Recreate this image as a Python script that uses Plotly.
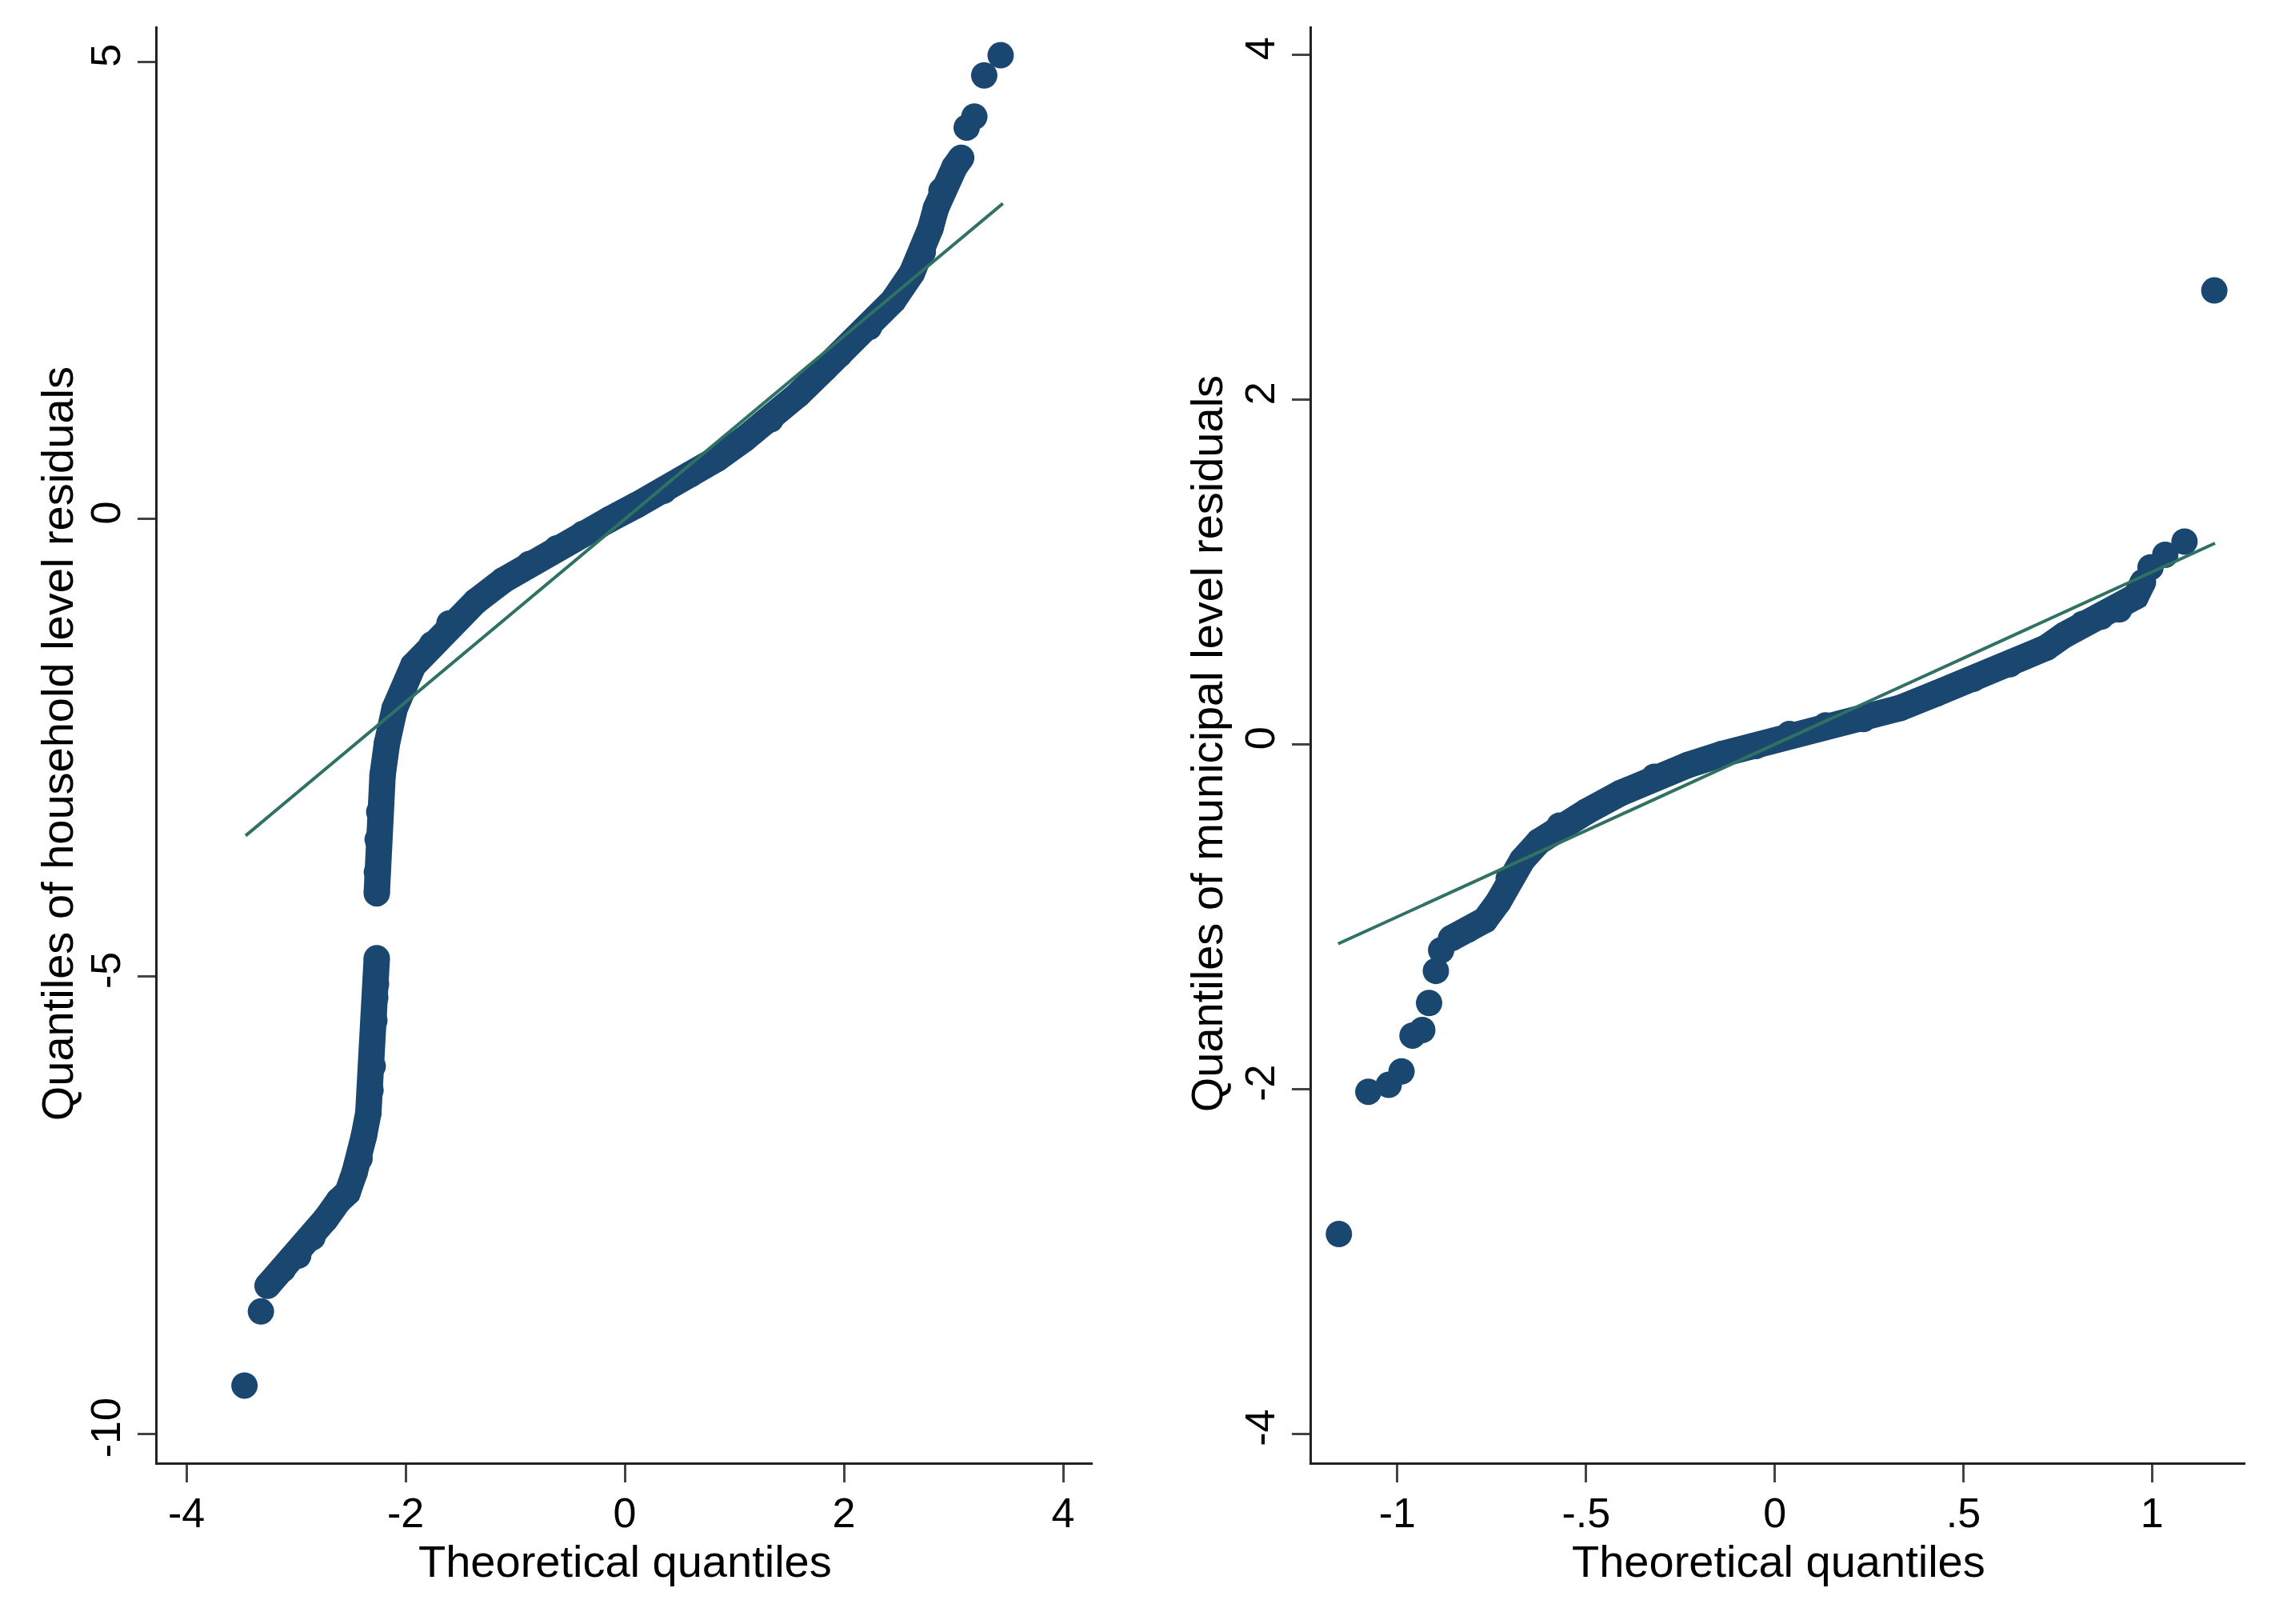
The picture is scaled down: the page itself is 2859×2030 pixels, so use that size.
import plotly.graph_objects as go

# ---------------- Data ----------------
# Left panel: household level residuals (theoretical quantile, residual)
hh_low_x = [-3.47, -3.32]
hh_low_y = [-9.47, -8.66]

hh_band1_x = [-3.26, -3.12, -2.98, -2.85, -2.73, -2.61, -2.53, -2.465, -2.42, -2.38,
              -2.34, -2.32, -2.30, -2.285, -2.277, -2.27, -2.263]
hh_band1_y = [-8.38, -8.20, -8.05, -7.85, -7.65, -7.45, -7.36, -7.14, -6.99, -6.74,
              -6.49, -6.24, -5.98, -5.48, -5.23, -5.08, -4.80]

hh_band2_x = [-2.263, -2.262, -2.255, -2.24, -2.21, -2.17, -2.10, -1.93, -1.76, -1.60,
              -1.36, -1.11, -0.87, -0.62, -0.38, -0.135, 0.11, 0.354, 0.60, 0.842,
              1.09, 1.331, 1.58, 1.82, 1.96, 2.23, 2.45, 2.62, 2.72, 2.79,
              2.84, 2.89, 3.01, 3.07]
hh_band2_y = [-4.09, -3.86, -3.50, -3.20, -2.80, -2.45, -2.07, -1.60, -1.37, -1.14,
              -0.90, -0.67, -0.49, -0.32, -0.16, 0.0, 0.155, 0.31, 0.49, 0.66,
              0.875, 1.09, 1.36, 1.64, 1.80, 2.10, 2.39, 2.69, 2.92, 3.18,
              3.40, 3.59, 3.85, 3.95]

hh_high_x = [3.12, 3.19, 3.28, 3.43]
hh_high_y = [4.28, 4.40, 4.85, 5.07]

hh_line = [-3.46, 3.45]

# Right panel: municipal level residuals
mu_low_x = [-1.155]
mu_low_y = [-2.84]

mu_dots_x = [-1.077, -1.023, -0.989, -0.960, -0.934, -0.916, -0.898, -0.884]
mu_dots_y = [-2.015, -1.975, -1.897, -1.689, -1.657, -1.50, -1.314, -1.194]

mu_band_x = [-0.858, -0.812, -0.768, -0.732, -0.705, -0.669, -0.625, -0.570, -0.499, -0.409,
             -0.319, -0.230, -0.140, -0.050, 0.039, 0.135, 0.235, 0.332, 0.429, 0.526,
             0.623, 0.720, 0.768, 0.816, 0.865, 0.913, 0.957, 0.976]
mu_band_y = [-1.126, -1.073, -1.019, -0.912, -0.778, -0.671, -0.564, -0.471, -0.390, -0.283,
             -0.188, -0.12, -0.056, -0.01, 0.06, 0.11, 0.147, 0.211, 0.296, 0.380,
             0.465, 0.561, 0.635, 0.698, 0.741, 0.783, 0.858, 0.942]

mu_high_x = [0.996, 1.035, 1.086, 1.165]
mu_high_y = [1.027, 1.10, 1.176, 2.633]

mu_line = [-1.157, 1.167]

# Tick labels and titles
hh_xticks = [-4, -2, 0, 2, 4]
hh_xtext = ["-4", "-2", "0", "2", "4"]
hh_yticks = [-10, -5, 0, 5]
hh_ytext = ["-10", "-5", "0", "5"]
mu_xticks = [-1, -0.5, 0, 0.5, 1]
mu_xtext = ["-1", "-.5", "0", ".5", "1"]
mu_yticks = [-4, -2, 0, 2, 4]
mu_ytext = ["-4", "-2", "0", "2", "4"]
x_title = "Theoretical quantiles"
hh_ytitle = "Quantiles of household level residuals"
mu_ytitle = "Quantiles of municipal level residuals"

# ---------------- Styling / layout ----------------
NAVY = "#1a476f"
TEAL = "#2f7264"
MS = 33
FONT = "Arial, Liberation Sans, sans-serif"

# page body has an 8px default margin; size the figure so it fits the window
OFF = 8
W, H = 2859 - 2 * OFF, 2030 - 2 * OFF


def px(X):
    return (X - OFF) / W


def py(Y):
    return 1 - (Y - OFF) / H


fig = go.Figure()


def band(x, y, xa, ya):
    fig.add_trace(go.Scatter(x=x, y=y, mode="lines+markers", xaxis=xa, yaxis=ya,
                             line=dict(color=NAVY, width=MS),
                             marker=dict(color=NAVY, size=MS, line=dict(width=0)),
                             showlegend=False, hoverinfo="skip"))


def dots(x, y, xa, ya):
    fig.add_trace(go.Scatter(x=x, y=y, mode="markers", xaxis=xa, yaxis=ya,
                             marker=dict(color=NAVY, size=MS, line=dict(width=0)),
                             showlegend=False, hoverinfo="skip"))


def refline(v, xa, ya):
    fig.add_trace(go.Scatter(x=v, y=v, mode="lines", xaxis=xa, yaxis=ya,
                             line=dict(color=TEAL, width=4),
                             showlegend=False, hoverinfo="skip"))


dots(hh_low_x, hh_low_y, "x", "y")
band(hh_band1_x, hh_band1_y, "x", "y")
band(hh_band2_x, hh_band2_y, "x", "y")
dots(hh_high_x, hh_high_y, "x", "y")
refline(hh_line, "x", "y")

dots(mu_low_x, mu_low_y, "x2", "y2")
dots(mu_dots_x, mu_dots_y, "x2", "y2")
band(mu_band_x, mu_band_y, "x2", "y2")
dots(mu_high_x, mu_high_y, "x2", "y2")
refline(mu_line, "x2", "y2")

axis_common = dict(showline=True, linewidth=3, linecolor="#222222", ticks="outside",
                   ticklen=22, tickwidth=3, tickcolor="#444444", showgrid=False,
                   zeroline=False, tickfont=dict(family=FONT, size=52, color="#000000"),
                   fixedrange=True)

L_X0, L_X1 = 197, 1366
R_X0, R_X1 = 1640, 2807
Y_TOP, Y_BOT = 32.5, 1828

fig.update_layout(
    width=W, height=H,
    margin=dict(l=0, r=0, t=0, b=0),
    paper_bgcolor="white", plot_bgcolor="white",
    font=dict(family=FONT, color="#000000"),
    xaxis=dict(domain=[px(L_X0), px(L_X1)], range=[-4.263, 4.27], anchor="y",
               tickvals=hh_xticks, ticktext=hh_xtext, ticklabelstandoff=-6,
               **axis_common),
    yaxis=dict(domain=[py(Y_BOT), py(Y_TOP)], range=[-10.31, 5.39], anchor="x",
               tickvals=hh_yticks, ticktext=hh_ytext, tickangle=-90, ticklabelstandoff=1,
               **axis_common),
    xaxis2=dict(domain=[px(R_X0), px(R_X1)], range=[-1.2266, 1.2474], anchor="y2",
                tickvals=mu_xticks, ticktext=mu_xtext, ticklabelstandoff=-6,
                **axis_common),
    yaxis2=dict(domain=[py(Y_BOT), py(Y_TOP)], range=[-4.165, 4.167], anchor="x2",
                tickvals=mu_yticks, ticktext=mu_ytext, tickangle=-90, ticklabelstandoff=1,
                **axis_common),
)

title_font = dict(family=FONT, size=56, color="#000000")
ymid = py((Y_TOP + Y_BOT) / 2)
fig.add_annotation(text=x_title, xref="paper", yref="paper", x=px((L_X0 + L_X1) / 2),
                   y=py(1951), xanchor="center", yanchor="middle", showarrow=False,
                   font=title_font)
fig.add_annotation(text=x_title, xref="paper", yref="paper", x=px((R_X0 + R_X1) / 2),
                   y=py(1951), xanchor="center", yanchor="middle", showarrow=False,
                   font=title_font)
fig.add_annotation(text=hh_ytitle, xref="paper", yref="paper", x=px(71), y=ymid,
                   xanchor="center", yanchor="middle", textangle=-90, showarrow=False,
                   font=title_font)
fig.add_annotation(text=mu_ytitle, xref="paper", yref="paper", x=px(1508), y=ymid,
                   xanchor="center", yanchor="middle", textangle=-90, showarrow=False,
                   font=title_font)

fig.write_html("out.html")
